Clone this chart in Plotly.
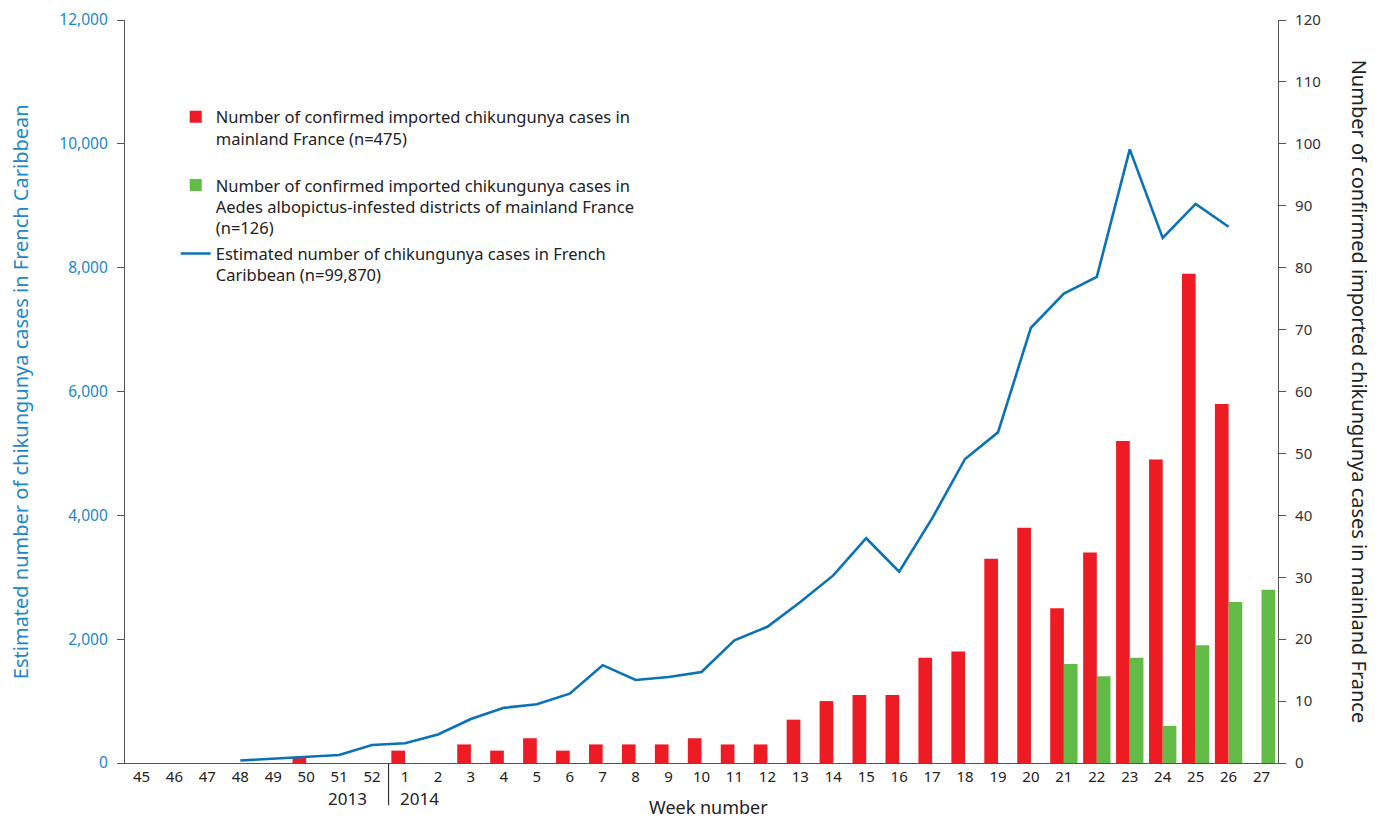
import plotly.graph_objects as go

weeks = ["45", "46", "47", "48", "49", "50", "51", "52",
         "1", "2", "3", "4", "5", "6", "7", "8", "9", "10", "11", "12", "13", "14",
         "15", "16", "17", "18", "19", "20", "21", "22", "23", "24", "25", "26", "27"]

imported_mainland = [0, 0, 0, 0, 0, 1, 0, 0,
                     2, 0, 3, 2, 4, 2, 3, 3, 3, 4, 3, 3, 7, 10,
                     11, 11, 17, 18, 33, 38, 25, 34, 52, 49, 79, 58, 0]

imported_albopictus = [0, 0, 0, 0, 0, 0, 0, 0,
                       0, 0, 0, 0, 0, 0, 0, 0, 0, 0, 0, 0, 0, 0,
                       0, 0, 0, 0, 0, 0, 16, 14, 17, 6, 19, 26, 28]

caribbean_estimated = [None, None, None, 40, 70, 100, 130, 290,
                       320, 460, 710, 890, 950, 1120, 1580, 1340, 1390, 1470, 1980, 2200, 2600, 3030,
                       3630, 3090, 3950, 4910, 5340, 7030, 7580, 7850, 9910, 8480, 9030, 8660, None]

left_ticks = [0, 2000, 4000, 6000, 8000, 10000, 12000]
right_ticks = list(range(0, 121, 10))

RED = "#ed1c24"
GREEN = "#62bb46"
BLUE = "#0b72b5"
LBLUE = "#2287c6"
FONT = "Noto Sans"

fig = go.Figure()
fig.add_trace(go.Bar(
    x=weeks, y=imported_mainland, yaxis="y", marker_color=RED, marker_line_width=0,
    name="Number of confirmed imported chikungunya cases in<br>mainland France (n=475)<br> ",
    legendgroup="a"))
fig.add_trace(go.Bar(
    x=weeks, y=imported_albopictus, yaxis="y", marker_color=GREEN, marker_line_width=0,
    name="Number of confirmed imported chikungunya cases in<br>Aedes albopictus-infested districts of mainland France<br>(n=126)",
    legendgroup="b"))
fig.add_trace(go.Scatter(
    x=weeks, y=caribbean_estimated, yaxis="y2", mode="lines",
    line=dict(color=BLUE, width=2.6), connectgaps=False,
    name="Estimated number of chikungunya cases in French<br>Caribbean (n=99,870)",
    legendgroup="c"))

fig.update_layout(
    width=1373, height=813,
    margin=dict(l=117, r=103, t=12, b=58, autoexpand=False),
    paper_bgcolor="white", plot_bgcolor="white",
    font=dict(family=FONT, color="#222"),
    barmode="group", bargap=0.17, bargroupgap=0,
    showlegend=True,
    legend=dict(x=0.044, y=0.893, xanchor="left", yanchor="top",
                font=dict(size=16.5, color="#222"), bgcolor="rgba(0,0,0,0)",
                traceorder="grouped", tracegroupgap=1, valign="top",
                itemwidth=30),
    xaxis=dict(type="category", showline=True, linecolor="#555", linewidth=1.2,
               ticks="", showgrid=False, tickfont=dict(size=15, color="#222"),
               zeroline=False, automargin=False),
    yaxis=dict(side="right", range=[0, 120], tickvals=right_ticks,
               showline=True, linecolor="#555", linewidth=1.2, ticks="outside",
               ticklen=7, tickcolor="#555", showgrid=False, zeroline=False,
               ticklabelstandoff=6, automargin=False,
               tickfont=dict(size=15, color="#333")),
    yaxis2=dict(side="left", overlaying="y", range=[0, 12000], tickvals=left_ticks,
                tickformat=",d", showline=True, linecolor="#555", linewidth=1.2,
                ticks="outside", ticklen=7, tickcolor="#555", showgrid=False,
                zeroline=False, ticklabelstandoff=6, automargin=False,
                tickfont=dict(size=15.5, color=LBLUE)),
)

fig.add_shape(type="line", xref="x", yref="paper", x0=7.5, x1=7.5, y0=0, y1=-0.057,
              line=dict(color="#333", width=1.2))

fig.add_annotation(x=7.5, y=-0.048, xref="x", yref="paper", text="2013", showarrow=False,
                   xanchor="right", yanchor="middle", xshift=-20, font=dict(size=17, color="#222"))
fig.add_annotation(x=7.5, y=-0.048, xref="x", yref="paper", text="2014", showarrow=False,
                   xanchor="left", yanchor="middle", xshift=9, font=dict(size=17, color="#222"))
fig.add_annotation(x=0.506, y=-0.0595, xref="paper", yref="paper", text="Week number",
                   showarrow=False, xanchor="center", yanchor="middle",
                   font=dict(size=18, color="#222"))
fig.add_annotation(x=-0.0905, y=0.5, xref="paper", yref="paper",
                   text="Estimated number of chikungunya cases in French Caribbean",
                   textangle=-90, showarrow=False, xanchor="center", yanchor="middle",
                   font=dict(size=20, color=LBLUE))
fig.add_annotation(x=1.071, y=0.5, xref="paper", yref="paper",
                   text="Number of confirmed imported chikungunya cases in mainland France",
                   textangle=90, showarrow=False, xanchor="center", yanchor="middle",
                   font=dict(size=20, color="#222"))

fig.write_html("out.html")
